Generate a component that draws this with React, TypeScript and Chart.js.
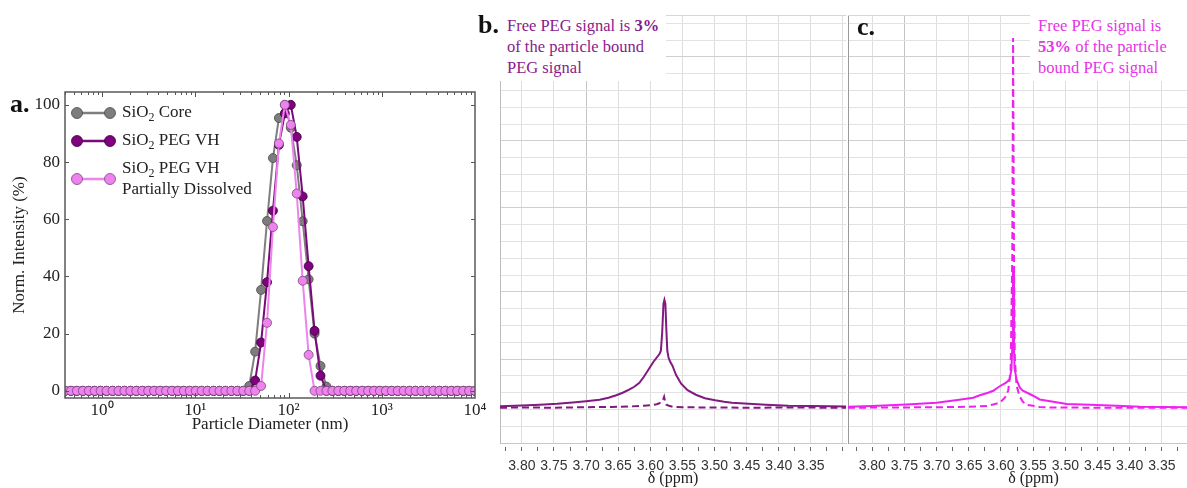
import React, { useEffect, useRef } from 'react';
import { Chart, registerables } from 'chart.js';

Chart.register(...registerables);

const SERIF = "'Liberation Serif', 'Times New Roman', Times, serif";
const SANS = "'Liberation Sans', Arial, Helvetica, sans-serif";

// ---------------- Panel a: DLS size distribution ----------------
const diameters = [
  0.4, 0.4632, 0.5365, 0.6213, 0.7195, 0.8332, 0.9649, 1.117, 1.294, 1.499,
  1.736, 2.01, 2.328, 2.696, 3.122, 3.615, 4.187, 4.849, 5.615, 6.503,
  7.531, 8.721, 10.1, 11.7, 13.54, 15.69, 18.17, 21.04, 24.36, 28.21,
  32.67, 37.84, 43.82, 50.75, 58.77, 68.06, 78.82, 91.28, 105.7, 122.4,
  141.8, 164.2, 190.1, 220.2, 255.0, 295.3, 342.0, 396.1, 458.7, 531.2,
  615.1, 712.4, 825.0, 955.4, 1106, 1281, 1484, 1718, 1990, 2305,
  2669, 3091, 3580, 4145, 4801, 5560, 6439, 7456, 8635, 10000,
];
const coreIntensity = [
  0, 0, 0, 0, 0, 0, 0, 0, 0, 0,
  0, 0, 0, 0, 0, 0, 0, 0, 0, 0,
  0, 0, 0, 0, 0, 0, 0, 0, 0, 0,
  0, 1.7, 13.7, 35.3, 59.4, 81.4, 95.4, 100, 92, 78.9,
  59.3, 39, 20, 8.7, 1.5, 0, 0, 0, 0, 0,
  0, 0, 0, 0, 0, 0, 0, 0, 0, 0,
  0, 0, 0, 0, 0, 0, 0, 0, 0, 0,
];
const pegIntensity = [
  0, 0, 0, 0, 0, 0, 0, 0, 0, 0,
  0, 0, 0, 0, 0, 0, 0, 0, 0, 0,
  0, 0, 0, 0, 0, 0, 0, 0, 0, 0,
  0, 0, 3.6, 16.9, 38, 63, 86, 97, 100, 88.8,
  68, 43.6, 21, 5.3, 0, 0, 0, 0, 0, 0,
  0, 0, 0, 0, 0, 0, 0, 0, 0, 0,
  0, 0, 0, 0, 0, 0, 0, 0, 0, 0,
];
const dissolvedIntensity = [
  0, 0, 0, 0, 0, 0, 0, 0, 0, 0,
  0, 0, 0, 0, 0, 0, 0, 0, 0, 0,
  0, 0, 0, 0, 0, 0, 0, 0, 0, 0,
  0, 0, 0, 1.7, 23.8, 57.3, 86.5, 100, 93, 69,
  38.5, 12.6, 0, 0, 0, 0, 0, 0, 0, 0,
  0, 0, 0, 0, 0, 0, 0, 0, 0, 0,
  0, 0, 0, 0, 0, 0, 0, 0, 0, 0,
];
const dlsLabels = ['SiO₂ Core', 'SiO₂ PEG VH', 'SiO₂ PEG VH\nPartially Dissolved'];
const dlsXTicks = [1, 10, 100, 1000, 10000];
const dlsXTickLabels = ['10⁰', '10¹', '10²', '10³', '10⁴'];
const dlsYTicks = [0, 20, 40, 60, 80, 100];

// ---------------- Panels b, c: 1H NMR ----------------
const nmrTickValues = [
  3.825, 3.8, 3.775, 3.75, 3.725, 3.7, 3.675, 3.65, 3.625, 3.6, 3.575, 3.55,
  3.525, 3.5, 3.475, 3.45, 3.425, 3.4, 3.375, 3.35, 3.325, 3.3, 3.275,
];
const nmrLabelValues = [3.8, 3.75, 3.7, 3.65, 3.6, 3.55, 3.5, 3.45, 3.4, 3.35];
const nmrLabels = ['3.80', '3.75', '3.70', '3.65', '3.60', '3.55', '3.50', '3.45', '3.40', '3.35'];

const bSolidPpm = [
  3.834, 3.8, 3.772, 3.745, 3.721, 3.7, 3.679, 3.665, 3.653, 3.643, 3.633, 3.625, 3.617, 3.61,
  3.602, 3.595, 3.589, 3.5855, 3.5835, 3.5815, 3.5795, 3.578, 3.5765, 3.575, 3.5735, 3.5715,
  3.569, 3.5655, 3.56, 3.552, 3.542, 3.529, 3.515, 3.499, 3.485, 3.473, 3.447, 3.42, 3.385,
  3.35, 3.32, 3.295,
];
const bSolidInt = [
  1.5, 2.2, 3, 4, 5.3, 6.5, 8, 10, 12.5, 15, 18, 21, 25, 31,
  39, 46, 51, 54, 57, 75, 104, 108, 104, 78, 57, 50,
  46, 42, 33, 24, 17.5, 13, 9.5, 7.5, 6, 5, 4, 3, 2,
  1.7, 1.5, 1.3,
];
const bDashedPpm = [
  3.834, 3.8, 3.75, 3.7, 3.66, 3.63, 3.61, 3.6, 3.59, 3.586, 3.581, 3.5785, 3.577, 3.575,
  3.571, 3.565, 3.55, 3.52, 3.45, 3.38, 3.295,
];
const bDashedInt = [
  0, 0.3, 0, 0.5, 0.8, 1.3, 2, 2.5, 3.5, 4.5, 6.5, 11, 6, 3,
  2, 1, 0.5, 0.3, 0, 0.2, 0,
];

const cSolidPpm = [
  3.8377, 3.8, 3.7466, 3.7, 3.665, 3.643, 3.633, 3.62, 3.612, 3.602, 3.592, 3.5865, 3.5838,
  3.5825, 3.5815, 3.5808, 3.5798, 3.579, 3.5758, 3.5707, 3.566, 3.55, 3.54, 3.514, 3.498,
  3.462, 3.42, 3.384, 3.311, 3.26,
];
const cSolidInt = [
  1, 1.8, 3.3, 5, 8, 10, 12.5, 15, 17, 21.5, 25, 28.5, 38,
  60, 140, 140, 60, 40, 28, 20, 17, 12, 8.3, 5.5, 3.8,
  3, 2, 1, 0.5, 0.4,
];
const cDashedPpm = [
  3.8377, 3.75, 3.7, 3.65, 3.622, 3.612, 3.602, 3.594, 3.5888, 3.585, 3.5825, 3.5812, 3.5798,
  3.5785, 3.5758, 3.5707, 3.566, 3.5603, 3.54, 3.529, 3.45, 3.3, 3.26,
];
const cDashedInt = [
  0, 0.3, 0.5, 1, 1.7, 3.3, 5, 10, 17, 38, 150, 370, 150,
  50, 22, 11, 6, 3, 0.8, 0.3, 0, 0, 0,
];

// ---------------- helpers ----------------
function drawRich(ctx: CanvasRenderingContext2D, text: string, x: number, y: number, size: number) {
  let cx = x;
  for (const seg of text.split(/(₂)/)) {
    if (!seg) continue;
    if (seg === '₂') {
      ctx.font = `${Math.round(size * 0.68)}px ${SERIF}`;
      ctx.fillText('2', cx, y + size * 0.28);
      cx += ctx.measureText('2').width;
    } else {
      ctx.font = `${size}px ${SERIF}`;
      ctx.fillText(seg, cx, y);
      cx += ctx.measureText(seg).width;
    }
  }
}

function DlsPanel() {
  const ref = useRef<HTMLCanvasElement | null>(null);
  useEffect(() => {
    const canvas = ref.current;
    if (!canvas) return;
    const series = [
      { label: dlsLabels[0], values: coreIntensity, line: '#7f7f7f', fill: '#7d7d7d', edge: '#4a4a4a', order: 3 },
      { label: dlsLabels[1], values: pegIntensity, line: '#7a0a7a', fill: '#800080', edge: '#3a003a', order: 2 },
      { label: dlsLabels[2], values: dissolvedIntensity, line: '#ec84ec', fill: '#ee82ee', edge: '#7a4a7a', order: 1 },
    ];
    const frame = {
      id: 'dlsFrame',
      afterDraw(chart: any) {
        const { ctx, chartArea } = chart;
        const { left, right, top, bottom } = chartArea;
        const xs = chart.scales.x;
        const ys = chart.scales.y;
        ctx.save();
        ctx.strokeStyle = '#555';
        ctx.lineWidth = 1;
        const seg = (x1: number, y1: number, x2: number, y2: number) => {
          ctx.beginPath();
          ctx.moveTo(x1, y1);
          ctx.lineTo(x2, y2);
          ctx.stroke();
        };
        dlsYTicks.forEach((v) => {
          const py = Math.round(ys.getPixelForValue(v)) + 0.5;
          seg(left, py, left + 4, py);
          seg(right, py, right - 4, py);
        });
        [0.1, 1, 10, 100, 1000].forEach((dec) => {
          for (let m = 1; m < 10; m++) {
            const v = dec * m;
            if (v < xs.min || v > xs.max) continue;
            const px = Math.round(xs.getPixelForValue(v)) + 0.5;
            const len = m === 1 ? 5 : 3;
            seg(px, bottom, px, bottom - len);
            seg(px, top, px, top + len);
          }
        });
        ctx.lineWidth = 1.5;
        ctx.strokeStyle = '#5a5a5a';
        ctx.strokeRect(left, top, right - left, bottom - top);
        ctx.restore();
      },
    };
    const legend = {
      id: 'dlsLegend',
      afterDraw(chart: any) {
        const { ctx, chartArea } = chart;
        const { left, top } = chartArea;
        const rows = [21, 49, 87];
        ctx.save();
        series.forEach((s, i) => {
          const y = top + rows[i];
          const x1 = left + 12;
          const x2 = left + 45;
          ctx.strokeStyle = s.line;
          ctx.lineWidth = 2.5;
          ctx.beginPath();
          ctx.moveTo(x1, y);
          ctx.lineTo(x2, y);
          ctx.stroke();
          [x1, x2].forEach((cx) => {
            ctx.beginPath();
            ctx.arc(cx, y, 5.5, 0, Math.PI * 2);
            ctx.fillStyle = s.fill;
            ctx.fill();
            ctx.lineWidth = 0.8;
            ctx.strokeStyle = s.edge;
            ctx.stroke();
          });
          ctx.fillStyle = '#222';
          ctx.textBaseline = 'middle';
          ctx.textAlign = 'left';
          const lines = s.label.split('\n');
          lines.forEach((ln, k) => {
            const ly = lines.length === 1 ? y : y - 10 + k * 21;
            drawRich(ctx, ln, left + 57, ly, 17);
          });
        });
        ctx.restore();
      },
    };
    const chart = new Chart(canvas, {
      type: 'line',
      data: {
        datasets: series.map((s) => ({
          label: s.label,
          data: diameters.map((d, i) => ({ x: d, y: s.values[i] })),
          borderColor: s.line,
          backgroundColor: s.fill,
          pointBackgroundColor: s.fill,
          pointBorderColor: s.edge,
          pointBorderWidth: 0.8,
          pointRadius: 4.5,
          borderWidth: 2,
          order: s.order,
          tension: 0,
        })),
      },
      options: {
        responsive: false,
        animation: false,
        events: [],
        layout: { padding: { left: 0, right: 15, top: 92, bottom: 0 } },
        plugins: { legend: { display: false }, tooltip: { enabled: false } },
        scales: {
          x: {
            type: 'logarithmic',
            min: 0.4,
            max: 10000,
            afterBuildTicks: (s: any) => {
              s.ticks = dlsXTicks.map((v) => ({ value: v }));
            },
            afterFit: (s: any) => {
              s.height = 90;
            },
            ticks: {
              autoSkip: false,
              maxRotation: 0,
              padding: 2,
              color: '#222',
              font: { family: SERIF, size: 17 },
              callback: (v: any) => {
                const i = dlsXTicks.indexOf(Number(v));
                return i >= 0 ? dlsXTickLabels[i] : '';
              },
            },
            grid: { drawOnChartArea: false, drawTicks: false },
            border: { display: false },
            title: {
              display: true,
              text: 'Particle Diameter (nm)',
              color: '#222',
              font: { family: SERIF, size: 17 },
              padding: { top: 0, bottom: 53 },
            },
          },
          y: {
            type: 'linear',
            min: -2.5,
            max: 104.5,
            afterBuildTicks: (s: any) => {
              s.ticks = dlsYTicks.map((v) => ({ value: v }));
            },
            afterFit: (s: any) => {
              s.width = 65;
            },
            ticks: { padding: 5, color: '#222', font: { family: SERIF, size: 17 } },
            grid: { drawOnChartArea: false, drawTicks: false },
            border: { display: false },
            title: {
              display: true,
              text: 'Norm. Intensity (%)',
              color: '#222',
              font: { family: SERIF, size: 17 },
              padding: { top: 9, bottom: 0 },
            },
          },
        },
      } as any,
      plugins: [frame, legend],
    });
    return () => chart.destroy();
  }, []);
  return <canvas ref={ref} width={490} height={488} style={{ position: 'absolute', left: 0, top: 0 }} />;
}

interface NmrProps {
  left: number;
  width: number;
  padLeft: number;
  padRight: number;
  xMax: number;
  xMin: number;
  color: string;
  solidPpm: number[];
  solidInt: number[];
  dashedPpm: number[];
  dashedInt: number[];
  leftBorder: string;
  rightBorder: string | null;
  darkLine: number;
}

function NmrPanel(p: NmrProps) {
  const ref = useRef<HTMLCanvasElement | null>(null);
  useEffect(() => {
    const canvas = ref.current;
    if (!canvas) return;
    const yMin = -35.3;
    const yGrid: number[] = [];
    for (let k = 0; k < 26; k++) yGrid.push(yMin + 16.8 * k);
    const darkRows = [5, 9, 14, 18, 23];
    const frame = {
      id: 'nmrFrame',
      afterDraw(chart: any) {
        const { ctx, chartArea } = chart;
        const { left, right, top, bottom } = chartArea;
        ctx.save();
        ctx.lineWidth = 1;
        ctx.strokeStyle = '#d6d6d6';
        ctx.beginPath();
        ctx.moveTo(left, top + 0.5);
        ctx.lineTo(right, top + 0.5);
        ctx.stroke();
        if (p.rightBorder) {
          ctx.strokeStyle = p.rightBorder;
          ctx.beginPath();
          ctx.moveTo(right - 0.5, top);
          ctx.lineTo(right - 0.5, bottom);
          ctx.stroke();
        }
        ctx.restore();
      },
    };
    const isMajor = (v: number) => Math.abs(v * 20 - Math.round(v * 20)) < 1e-6;
    const chart = new Chart(canvas, {
      type: 'line',
      data: {
        datasets: [
          {
            data: p.solidPpm.map((x, i) => ({ x, y: p.solidInt[i] })),
            borderColor: p.color,
            borderWidth: 2,
            pointRadius: 0,
            tension: 0,
          },
          {
            data: p.dashedPpm.map((x, i) => ({ x, y: p.dashedInt[i] })),
            borderColor: p.color,
            borderWidth: 2,
            borderDash: [7, 4],
            pointRadius: 0,
            tension: 0,
          },
        ],
      },
      options: {
        responsive: false,
        animation: false,
        events: [],
        layout: { padding: { left: p.padLeft, right: p.padRight, top: 15, bottom: 0 } },
        plugins: { legend: { display: false }, tooltip: { enabled: false } },
        scales: {
          x: {
            type: 'linear',
            reverse: true,
            min: p.xMin,
            max: p.xMax,
            afterBuildTicks: (s: any) => {
              s.ticks = nmrTickValues.filter((v) => v >= p.xMin && v <= p.xMax).map((v) => ({ value: v }));
            },
            afterFit: (s: any) => {
              s.height = 45;
            },
            ticks: {
              autoSkip: false,
              maxRotation: 0,
              padding: 7,
              color: '#333',
              font: { family: SANS, size: 14 },
              callback: (v: any) => {
                const i = nmrLabelValues.findIndex((l) => Math.abs(l - Number(v)) < 1e-6);
                return i >= 0 ? nmrLabels[i] : '';
              },
            },
            grid: {
              color: (ctx: any) => {
                const v = ctx.tick ? ctx.tick.value : NaN;
                if (!isMajor(v)) return 'rgba(0,0,0,0)';
                return Math.abs(v - p.darkLine) < 1e-6 ? '#c4c4c4' : '#dedede';
              },
              tickColor: '#666',
              tickLength: 8,
              tickBorderDash: [0, 3, 5, 0],
            },
            border: { color: '#c8c8c8' },
            title: {
              display: true,
              text: 'δ (ppm)',
              color: '#222',
              font: { family: SERIF, size: 16 },
              padding: { top: 0, bottom: 0 },
            },
          },
          y: {
            type: 'linear',
            min: yMin,
            max: 393,
            afterBuildTicks: (s: any) => {
              s.ticks = yGrid.map((v) => ({ value: v }));
            },
            afterFit: (s: any) => {
              s.width = 0;
            },
            ticks: { display: false },
            grid: {
              drawTicks: false,
              color: (ctx: any) => (darkRows.indexOf(ctx.index) >= 0 ? '#cfcfcf' : '#e2e2e2'),
            },
            border: { color: p.leftBorder },
          },
        },
      } as any,
      plugins: [frame],
    });
    return () => chart.destroy();
  }, []);
  return (
    <canvas ref={ref} width={p.width} height={488} style={{ position: 'absolute', left: p.left, top: 0 }} />
  );
}

const panelLetter: React.CSSProperties = {
  position: 'absolute',
  fontFamily: SERIF,
  fontWeight: 'bold',
  fontSize: 26,
  lineHeight: '26px',
  color: '#111',
  zIndex: 3,
};

const noteBox: React.CSSProperties = {
  position: 'absolute',
  top: 15,
  height: 66,
  background: '#fff',
  fontFamily: SERIF,
  fontSize: 16.5,
  lineHeight: '21px',
  paddingLeft: 8,
  boxSizing: 'border-box',
  whiteSpace: 'nowrap',
  zIndex: 2,
};

export default function App() {
  return (
    <div
      style={{
        position: 'fixed',
        left: 0,
        top: 0,
        width: 1187,
        height: 488,
        overflow: 'hidden',
        background: '#fff',
      }}
    >
      <DlsPanel />
      <NmrPanel
        left={490}
        width={360}
        padLeft={10}
        padRight={2}
        xMax={3.834}
        xMin={3.295}
        color="#801a80"
        solidPpm={bSolidPpm}
        solidInt={bSolidInt}
        dashedPpm={bDashedPpm}
        dashedInt={bDashedInt}
        leftBorder="#bdbdbd"
        rightBorder={null}
        darkLine={3.7}
      />
      <NmrPanel
        left={840}
        width={379}
        padLeft={8}
        padRight={0}
        xMax={3.8377}
        xMin={3.2613}
        color="#ee22ee"
        solidPpm={cSolidPpm}
        solidInt={cSolidInt}
        dashedPpm={cDashedPpm}
        dashedInt={cDashedInt}
        leftBorder="#9a9a9a"
        rightBorder={null}
        darkLine={3.75}
      />
      <div style={{ ...panelLetter, left: 10, top: 91 }}>a.</div>
      <div style={{ ...panelLetter, left: 478, top: 12 }}>b.</div>
      <div style={{ ...panelLetter, left: 857, top: 14 }}>c.</div>
      <div style={{ ...noteBox, left: 499, width: 167, color: '#8a1a8a' }}>
        Free PEG signal is <b>3%</b>
        <br />
        of the particle bound
        <br />
        PEG signal
      </div>
      <div style={{ ...noteBox, left: 1030, width: 160, color: '#e535e5' }}>
        Free PEG signal is
        <br />
        <b>53%</b> of the particle
        <br />
        bound PEG signal
      </div>
    </div>
  );
}
